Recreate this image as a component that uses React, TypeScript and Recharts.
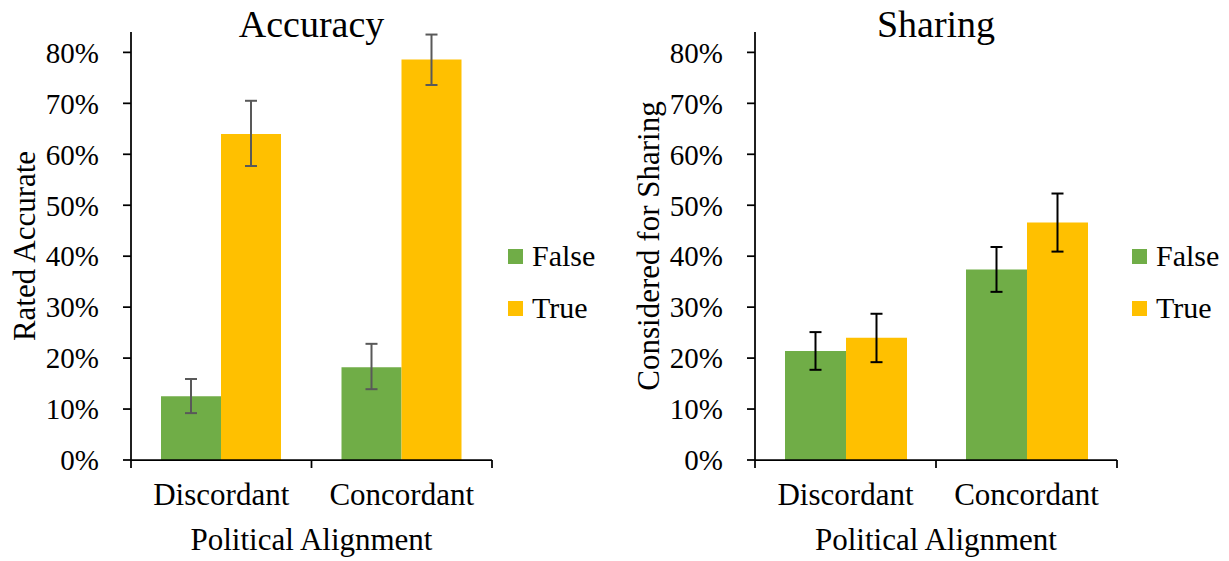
import React from 'react';
import { BarChart, Bar, XAxis, YAxis, ErrorBar, Legend } from 'recharts';

// ---- data ----
const categories = ['Discordant', 'Concordant'];
const seriesNames = ['False', 'True'];
const seriesColors = ['#70AD47', '#FFC000'];
const yTicks = [0, 0.1, 0.2, 0.3, 0.4, 0.5, 0.6, 0.7, 0.8];

const accuracyFalse = [0.125, 0.182];
const accuracyFalseLow = [0.092, 0.139];
const accuracyFalseHigh = [0.159, 0.228];
const accuracyTrue = [0.64, 0.786];
const accuracyTrueLow = [0.577, 0.736];
const accuracyTrueHigh = [0.705, 0.835];

const sharingFalse = [0.214, 0.374];
const sharingFalseLow = [0.177, 0.33];
const sharingFalseHigh = [0.251, 0.418];
const sharingTrue = [0.24, 0.466];
const sharingTrueLow = [0.192, 0.409];
const sharingTrueHigh = [0.287, 0.523];

const FONT = '"Liberation Serif", "Times New Roman", serif';

function buildRows(
  fv: number[], flo: number[], fhi: number[],
  tv: number[], tlo: number[], thi: number[]
) {
  return categories.map((c, i) => ({
    category: c,
    [seriesNames[0]]: fv[i],
    [seriesNames[0] + 'Err']: [fv[i] - flo[i], fhi[i] - fv[i]],
    [seriesNames[1]]: tv[i],
    [seriesNames[1] + 'Err']: [tv[i] - tlo[i], thi[i] - tv[i]],
  }));
}

const accuracyRows = buildRows(accuracyFalse, accuracyFalseLow, accuracyFalseHigh, accuracyTrue, accuracyTrueLow, accuracyTrueHigh);
const sharingRows = buildRows(sharingFalse, sharingFalseLow, sharingFalseHigh, sharingTrue, sharingTrueLow, sharingTrueHigh);

const AXIS_COLOR = '#000';
const AXIS_W = 1.75;

const CategoryTick = (props: any) => {
  const { x, y, payload, index } = props;
  const half = payload && payload.offset ? payload.offset : 0;
  const last = index === categories.length - 1;
  return (
    <g>
      <line x1={x - half} y1={y} x2={x - half} y2={y + 8} stroke={AXIS_COLOR} strokeWidth={AXIS_W} />
      {last && <line x1={x + half} y1={y} x2={x + half} y2={y + 8} stroke={AXIS_COLOR} strokeWidth={AXIS_W} />}
      <text x={x} y={y + 45} textAnchor="middle" fontFamily={FONT} fontSize={31} fill="#000">
        {payload.value}
      </text>
    </g>
  );
};

const renderLegend = (props: any) => {
  const { payload } = props;
  return (
    <div style={{ fontFamily: FONT, fontSize: 30, color: '#000' }}>
      {(payload || []).map((e: any, i: number) => (
        <div key={i} style={{ display: 'flex', alignItems: 'center', height: 52 }}>
          <span style={{ display: 'inline-block', width: 15, height: 15, background: e.color, marginRight: 9 }} />
          <span style={{ lineHeight: '30px' }}>{e.value}</span>
        </div>
      ))}
    </div>
  );
};

type PanelProps = {
  left: number;
  width: number;
  plotLeft: number;
  plotRight: number;
  title: string;
  yLabel: string;
  rows: any[];
  errColor: string;
  legendLeft: number;
};

const PLOT_TOP = 32;
const PLOT_BOTTOM = 460;
const H = 561;
const Y_AXIS_W = 120;
const X_AXIS_H = H - PLOT_BOTTOM;

const Panel = ({ left, width, plotLeft, plotRight, title, yLabel, rows, errColor, legendLeft }: PanelProps) => {
  const yLabelRenderer = (p: any) => {
    const vb = p.viewBox || { x: plotLeft - Y_AXIS_W, y: PLOT_TOP, width: Y_AXIS_W, height: PLOT_BOTTOM - PLOT_TOP };
    const cx = vb.x + vb.width - 107;
    const cy = vb.y + vb.height / 2;
    return (
      <text x={cx} y={cy} transform={`rotate(-90 ${cx} ${cy})`} textAnchor="middle" dominantBaseline="central"
        fontFamily={FONT} fontSize={31} fill="#000">
        {yLabel}
      </text>
    );
  };
  const xLabelRenderer = (p: any) => {
    const vb = p.viewBox || { x: plotLeft, y: PLOT_BOTTOM, width: plotRight - plotLeft, height: X_AXIS_H };
    const cx = vb.x + vb.width / 2;
    return (
      <text x={cx} y={vb.y + 90} textAnchor="middle" fontFamily={FONT} fontSize={31} fill="#000">
        Political Alignment
      </text>
    );
  };
  return (
    <div style={{ position: 'absolute', left, top: 0, width, height: H }}>
      <div style={{ position: 'absolute', left: plotLeft, width: plotRight - plotLeft, top: 5, textAlign: 'center',
        fontFamily: FONT, fontSize: 38, lineHeight: '38px', color: '#000', zIndex: 2 }}>
        {title}
      </div>
      <BarChart
        width={width}
        height={H}
        data={rows}
        margin={{ top: PLOT_TOP, left: plotLeft - Y_AXIS_W, right: width - plotRight, bottom: 0 }}
        barCategoryGap={30}
        barGap={0}
      >
        <XAxis
          dataKey="category"
          type="category"
          height={X_AXIS_H}
          axisLine={{ stroke: AXIS_COLOR, strokeWidth: AXIS_W }}
          tickLine={false}
          tickSize={0}
          tickMargin={0}
          tick={<CategoryTick />}
          interval={0}
          label={xLabelRenderer}
        />
        <YAxis
          type="number"
          width={Y_AXIS_W}
          domain={[0, 0.84]}
          allowDataOverflow
          ticks={yTicks}
          interval={0}
          tickFormatter={(v: number) => `${Math.round(v * 100)}%`}
          axisLine={{ stroke: AXIS_COLOR, strokeWidth: AXIS_W }}
          tickLine={{ stroke: AXIS_COLOR, strokeWidth: AXIS_W }}
          tickSize={8}
          tickMargin={24}
          tick={{ fontFamily: FONT, fontSize: 29, fill: '#000' }}
          label={yLabelRenderer}
        />
        <Legend
          layout="vertical"
          align="center"
          verticalAlign="middle"
          content={renderLegend}
          wrapperStyle={{ left: legendLeft, top: 230, width: 100 }}
        />
        {seriesNames.map((s, i) => (
          <Bar key={s} dataKey={s} name={s} fill={seriesColors[i]} isAnimationActive={false}>
            <ErrorBar dataKey={s + 'Err'} width={6} strokeWidth={2} stroke={errColor} direction="y" isAnimationActive={false} />
          </Bar>
        ))}
      </BarChart>
    </div>
  );
}

export default function App() {
  return (
    <div style={{ position: 'absolute', left: 0, top: 0, width: 1229, height: 561, background: '#fff', overflow: 'hidden' }}>
      <Panel left={0} width={615} plotLeft={131} plotRight={492} title="Accuracy" yLabel="Rated Accurate"
        rows={accuracyRows} errColor="#595959" legendLeft={508} />
      <Panel left={615} width={614} plotLeft={140} plotRight={502} title="Sharing" yLabel="Considered for Sharing"
        rows={sharingRows} errColor="#000" legendLeft={517} />
    </div>
  );
}
